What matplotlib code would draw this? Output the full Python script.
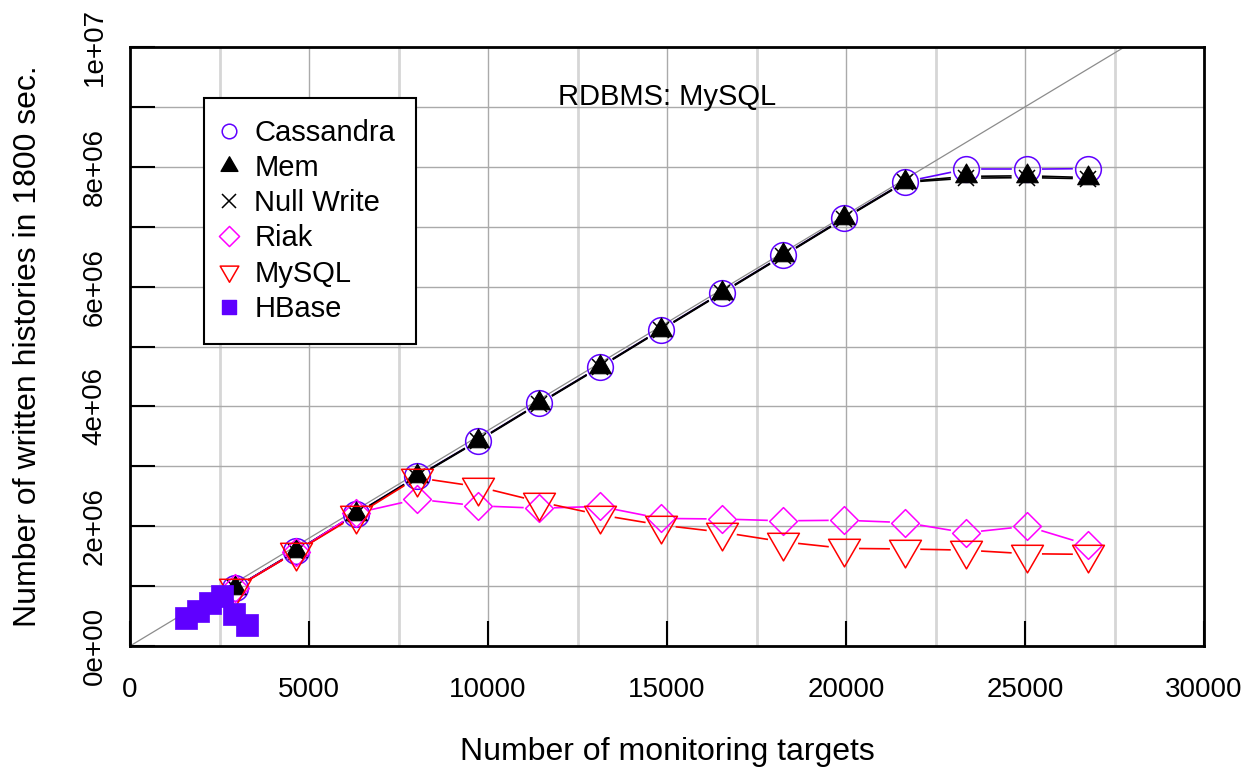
import numpy as np
import matplotlib
matplotlib.use('Agg')
import matplotlib.pyplot as plt
from matplotlib.path import Path
from matplotlib.lines import Line2D
from matplotlib.ticker import MultipleLocator, FuncFormatter

plt.rcParams['font.family'] = ['Liberation Sans', 'DejaVu Sans']

# number of monitoring targets per run
targets = [2930, 4630, 6320, 8020, 9720, 11420, 13120, 14820,
           16530, 18240, 19940, 21650, 23350, 25050, 26760]

# written histories in 1800 sec.
cassandra = [0.97e6, 1.58e6, 2.21e6, 2.83e6, 3.43e6, 4.05e6, 4.66e6, 5.28e6,
             5.90e6, 6.52e6, 7.14e6, 7.75e6, 7.96e6, 7.96e6, 7.97e6]
mem = [0.97e6, 1.58e6, 2.21e6, 2.83e6, 3.43e6, 4.05e6, 4.66e6, 5.28e6,
       5.90e6, 6.52e6, 7.14e6, 7.75e6, 7.84e6, 7.85e6, 7.82e6]
null_write = [0.97e6, 1.57e6, 2.20e6, 2.82e6, 3.42e6, 4.04e6, 4.65e6, 5.27e6,
              5.89e6, 6.51e6, 7.13e6, 7.74e6, 7.81e6, 7.82e6, 7.80e6]
riak = [0.97e6, 1.57e6, 2.22e6, 2.45e6, 2.34e6, 2.30e6, 2.33e6, 2.13e6,
        2.12e6, 2.09e6, 2.10e6, 2.06e6, 1.89e6, 2.00e6, 1.69e6]
mysql = [0.96e6, 1.57e6, 2.18e6, 2.81e6, 2.66e6, 2.41e6, 2.19e6, 2.02e6,
         1.90e6, 1.74e6, 1.63e6, 1.62e6, 1.60e6, 1.54e6, 1.53e6]

hbase_targets = [1560, 1900, 2235, 2570, 2905, 3270]
hbase = [0.47e6, 0.58e6, 0.72e6, 0.84e6, 0.53e6, 0.35e6]

writes_per_target = 360  # 1800 sec / 5 sec interval

blue = '#5f00ff'
magenta = '#ff00ff'
red = '#ff0000'

# R-like markers (centroid-centred triangles)
tri_up = Path([(0, 1), (-0.866, -0.5), (0.866, -0.5), (0, 1)], closed=True)
tri_down = Path([(0, -1), (-0.866, 0.5), (0.866, 0.5), (0, -1)], closed=True)
diamond = Path([(0, 1), (1, 0), (0, -1), (-1, 0), (0, 1)], closed=True)
square = Path([(-1, -1), (1, -1), (1, 1), (-1, 1), (-1, -1)], closed=True)

fig = plt.figure(figsize=(12.6, 7.76), dpi=100)
ax = fig.add_axes([130 / 1260, 1 - 646 / 776, 1074 / 1260, 599 / 776])
ax.set_xlim(0, 30000)
ax.set_ylim(0, 1e7)

ax.xaxis.set_major_locator(MultipleLocator(5000))
ax.xaxis.set_minor_locator(MultipleLocator(2500))
ax.yaxis.set_major_locator(MultipleLocator(2e6))
ax.yaxis.set_minor_locator(MultipleLocator(1e6))
ax.yaxis.set_major_formatter(FuncFormatter(lambda v, p: '%.0e' % v))

ax.tick_params(axis='both', which='major', direction='in', length=18, width=1.5,
               labelsize=20)
ax.tick_params(axis='x', which='major', pad=22)
ax.tick_params(axis='y', which='major', pad=16)
ax.tick_params(axis='x', which='minor', length=0)
ax.tick_params(axis='y', which='minor', direction='in', length=18, width=1.5)
for lab in ax.get_yticklabels():
    lab.set_rotation(90)
    lab.set_va('center')

ax.grid(True, axis='y', which='both', color='#aaaaaa', linewidth=1)
ax.grid(True, axis='x', which='major', color='#aaaaaa', linewidth=1)
ax.grid(True, axis='x', which='minor', color='#d6d6d6', linewidth=2)
ax.set_axisbelow(True)
for s in ax.spines.values():
    s.set_linewidth(2)

ax.axline((0, 0), slope=writes_per_target, color='#8c8c8c', linewidth=0.9, zorder=1.5)


def gapped(xs, ys, gap=16, **kw):
    # lines like R's type="b": segments stop short of the points
    pts = ax.transData.transform(np.column_stack([xs, ys]))
    inv = ax.transData.inverted()
    for p, q in zip(pts[:-1], pts[1:]):
        d = q - p
        n = np.hypot(d[0], d[1])
        if n <= 2 * gap:
            continue
        u = d / n
        seg = inv.transform(np.array([p + u * gap, q - u * gap]))
        ax.plot(seg[:, 0], seg[:, 1], **kw)


series = [
    (targets, cassandra, blue, dict(marker='o', ms=18.5, mfc='none', mec=blue, mew=1.1)),
    (targets, mem, 'black', dict(marker=tri_up, ms=18, mfc='black', mec='black', mew=0.8)),
    (targets, null_write, 'black', dict(marker='x', ms=12, mec='black', mew=1.1)),
    (targets, riak, magenta, dict(marker=diamond, ms=20, mfc='none', mec=magenta, mew=1.1)),
    (targets, mysql, red, dict(marker=tri_down, ms=26.5, mfc='none', mec=red, mew=1.1)),
    (hbase_targets, hbase, blue, dict(marker=square, ms=15.5, mfc=blue, mec=blue, mew=0.5)),
]
for xs, ys, col, mk in series:
    gapped(xs, ys, color=col, linewidth=1.2, zorder=3)
    ax.plot(xs, ys, linestyle='none', zorder=4, **mk)

ax.text(0.5, 0.903, 'RDBMS: MySQL', transform=ax.transAxes, ha='center',
        va='baseline', fontsize=21)

ax.set_xlabel('Number of monitoring targets', fontsize=23)
ax.set_ylabel('Number of written histories in 1800 sec.', fontsize=23)
ax.xaxis.set_label_coords(0.5, -(752 - 646) / 599)
ax.xaxis.label.set_va('center')
ax.yaxis.set_label_coords(-(130 - 28) / 1074, 0.5)
ax.yaxis.label.set_va('center')

labels = ['Cassandra', 'Mem', 'Null Write', 'Riak', 'MySQL', 'HBase']
handles = [
    Line2D([], [], linestyle='none', marker='o', ms=10.5, mfc='none', mec=blue, mew=1.1),
    Line2D([], [], linestyle='none', marker=tri_up, ms=14, mfc='black', mec='black'),
    Line2D([], [], linestyle='none', marker='x', ms=10, mec='black', mew=1.1),
    Line2D([], [], linestyle='none', marker=diamond, ms=14.5, mfc='none', mec=magenta, mew=1.1),
    Line2D([], [], linestyle='none', marker=tri_down, ms=15.5, mfc='none', mec=red, mew=1.1),
    Line2D([], [], linestyle='none', marker=square, ms=9.5, mfc=blue, mec=blue),
]
leg = ax.legend(handles, labels, loc='upper left',
                bbox_to_anchor=((204 - 130) / 1074, (646 - 98) / 599),
                borderaxespad=0, fontsize=21, frameon=True, fancybox=False,
                framealpha=1, edgecolor='black', borderpad=0.72,
                handlelength=0.3, handletextpad=0.7, labelspacing=0.245)
leg.get_frame().set_linewidth(1.5)
leg.set_zorder(6)

fig.savefig('out.png', dpi=100)
